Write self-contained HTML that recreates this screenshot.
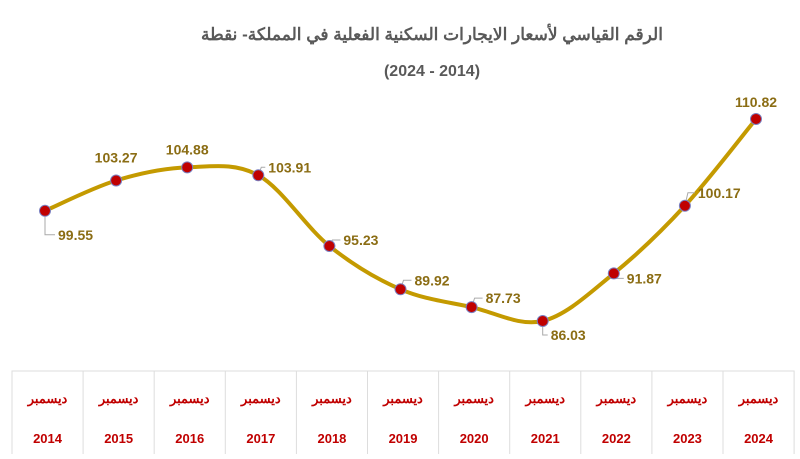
<!DOCTYPE html>
<html><head><meta charset="utf-8"><style>
body{margin:0;background:#fff;width:800px;height:454px;overflow:hidden;font-family:"Liberation Sans","Noto Sans CJK SC",sans-serif}
svg text{font-family:"Liberation Sans","Noto Sans CJK SC",sans-serif}
</style></head><body>
<svg id="chart" width="800" height="454" xmlns="http://www.w3.org/2000/svg">
<text x="432" y="40" text-anchor="middle" direction="rtl" font-size="17" font-weight="bold" fill="#595959">الرقم القياسي لأسعار الايجارات السكنية الفعلية في المملكة- نقطة</text>
<text x="432" y="76" text-anchor="middle" font-size="16" font-weight="bold" fill="#595959">(2024 - 2014)</text>
<g id="table"></g>
<g id="plot"></g>
</svg>
<script>
const years=["2014","2015","2016","2017","2018","2019","2020","2021","2022","2023","2024"];
const values=[99.55,103.27,104.88,103.91,95.23,89.92,87.73,86.03,91.87,100.17,110.82];
const labelText=["99.55","103.27","104.88","103.91","95.23","89.92","87.73","86.03","91.87","100.17","110.82"];
const monthLabel="ديسمبر";
const NS="http://www.w3.org/2000/svg";
const x0=45,step=71.1;
function xs(i){return x0+i*step;}
function ys(v){return 321-(v-86.03)*8.15;}
function mk(tag,attrs,parent){const e=document.createElementNS(NS,tag);for(const k in attrs)e.setAttribute(k,attrs[k]);parent.appendChild(e);return e;}
const table=document.getElementById('table'),plot=document.getElementById('plot');
// table
const tl=12,tw=step;
const border=mk('rect',{x:tl,y:371,width:tw*years.length,height:90,fill:'none',stroke:'#ddd','stroke-width':1},table);


years.forEach((y,i)=>{
  if(i>0){const l=mk('line',{x1:tl+i*tw,x2:tl+i*tw,y1:371,y2:454,stroke:'#ddd'},table);
  
  }
  const cx=tl+i*tw+tw/2;
  const m=mk('text',{x:cx,y:403,'text-anchor':'middle','font-size':13,'font-weight':'bold',fill:'#C00000'},table);
  m.textContent=monthLabel;
  
  
  const t=mk('text',{x:cx,y:443,'text-anchor':'middle','font-size':13,'font-weight':'bold',fill:'#C00000'},table);
  t.textContent=y;
  
  
});
// smooth line (Catmull-Rom)
const pts=values.map((v,i)=>[xs(i),ys(v)]);
let d=`M${pts[0][0]},${pts[0][1]}`;
for(let i=0;i<pts.length-1;i++){
  const p0=pts[Math.max(0,i-1)],p1=pts[i],p2=pts[i+1],p3=pts[Math.min(pts.length-1,i+2)];
  const t=0.18*1;
  const c1=[p1[0]+(p2[0]-p0[0])/6,p1[1]+(p2[1]-p0[1])/6];
  const c2=[p2[0]-(p3[0]-p1[0])/6,p2[1]-(p3[1]-p1[1])/6];
  d+=` C${c1[0]},${c1[1]} ${c2[0]},${c2[1]} ${p2[0]},${p2[1]}`;
}
const line=mk('path',{d:d,fill:'none',stroke:'#C49A00','stroke-width':4,'stroke-linecap':'round'},plot);


// label offsets [dx,dy,anchor]
const offs=[[13,24,'start'],[0,-23,'middle'],[0,-18,'middle'],[10,-8,'start'],[14,-6,'start'],[14,-9,'start'],[14,-9,'start'],[8,14,'start'],[13,5,'start'],[13,-13,'start'],[0,-17,'middle']];
pts.forEach((p,i)=>{
  const o=offs[i];
  if(o[2]==='start'){
    const lead=mk('polyline',{points:`${p[0]},${p[1]} ${p[0]+ (o[1]>0?0:3)},${p[1]+o[1]} ${p[0]+o[0]-3},${p[1]+o[1]}`,fill:'none',stroke:'#aaa','stroke-width':1},plot);
    
    
  }
  const c=mk('circle',{cx:p[0],cy:p[1],r:5.5,fill:'#C00000',stroke:'#7a7fc0','stroke-width':1},plot);
  
  
  const t=mk('text',{x:p[0]+o[0],y:p[1]+o[1]+5,'text-anchor':o[2],'font-size':14,'font-weight':'bold',fill:'#8B6D14'},plot);
  t.textContent=labelText[i];
  
  
});
</script>
</body></html>
